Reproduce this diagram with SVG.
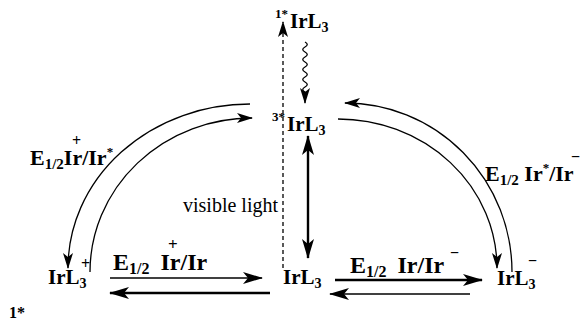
<svg xmlns="http://www.w3.org/2000/svg" width="580" height="324" viewBox="0 0 580 324">
<style>
.t{font-family:"Liberation Serif","Times New Roman",serif;font-weight:bold;fill:#000}
.n{font-family:"Liberation Serif","Times New Roman",serif;fill:#000}
.l{fill:none;stroke:#000;stroke-width:1.3}
.k{fill:none;stroke:#000;stroke-width:2.4}
</style>
<defs>
<marker id="ah" markerWidth="16" markerHeight="10" refX="15" refY="5" orient="auto-start-reverse" markerUnits="userSpaceOnUse">
<path d="M0,0 L16,5 L0,10 L4,5 z" fill="#000"/>
</marker>
<marker id="ahb" markerWidth="20" markerHeight="12" refX="19" refY="6" orient="auto-start-reverse" markerUnits="userSpaceOnUse">
<path d="M0,0 L20,6 L0,12 L5,6 z" fill="#000"/>
</marker>
</defs>
<g id="connectors">
<line class="l" x1="283" y1="268" x2="283" y2="22" stroke-dasharray="4,3" stroke-width="1.6" marker-end="url(#ah)"/>
<path class="l" d="M305,42 q4.5,2.5 0,5 t0,5 t0,5 t0,5 t0,5 t0,5 t0,5 t0,5 t0,5 t0,5 L305,103" marker-end="url(#ah)"/>
<line class="k" x1="308" y1="136" x2="308" y2="258" marker-start="url(#ahb)" marker-end="url(#ahb)"/>
<path class="l" d="M250,104 A182,164 0 0 0 68,268" marker-end="url(#ah)"/>
<path class="l" d="M90,272 A162,154 0 0 1 252,118" marker-end="url(#ah)"/>
<path class="l" d="M512,272 A167,169 0 0 0 345,103" marker-end="url(#ah)"/>
<path class="l" d="M338,119 A159,149 0 0 1 497,268" marker-end="url(#ah)"/>
<line class="l" x1="110" y1="278" x2="262" y2="278" marker-end="url(#ahb)"/>
<line class="k" x1="270" y1="293" x2="110" y2="293" marker-end="url(#ahb)"/>
<line class="k" x1="335" y1="280" x2="482" y2="280" marker-end="url(#ahb)"/>
<line class="l" x1="470" y1="294" x2="330" y2="294" marker-end="url(#ahb)"/>
</g>
<g id="n1">
<text class="t" x="275" y="18" font-size="13">1*</text>
<text class="t" x="290" y="28" font-size="21">IrL<tspan font-size="14" dy="4">3</tspan></text>
</g>
<g id="n3">
<text class="t" x="272" y="121" font-size="13">3*</text>
<text class="t" x="287" y="131" font-size="21">IrL<tspan font-size="14" dy="4">3</tspan></text>
</g>
<g id="nplus">
<text class="t" x="48" y="284" font-size="21">IrL<tspan font-size="14" dy="4">3</tspan></text>
<text class="t" x="81" y="269" font-size="16">+</text>
<text class="t" x="9" y="318" font-size="16">1*</text>
</g>
<g id="nmid">
<text class="t" x="283" y="284" font-size="21">IrL<tspan font-size="14" dy="4">3</tspan></text>
</g>
<g id="nminus">
<text class="t" x="497" y="285" font-size="21">IrL<tspan font-size="14" dy="4">3</tspan></text>
<text class="t" x="528" y="266" font-size="16">−</text>
</g>
<g id="labels">
<text class="t" x="30" y="165" font-size="22">E<tspan font-size="15" dy="4">1/2</tspan><tspan dy="-4">Ir/Ir</tspan><tspan font-size="13" dy="-9">*</tspan></text>
<text class="t" x="72" y="146" font-size="16">+</text>
<text class="t" x="485" y="181" font-size="22">E<tspan font-size="15" dy="4">1/2</tspan><tspan dy="-4"> Ir</tspan><tspan font-size="13" dy="-9">*</tspan><tspan dy="9">/Ir</tspan></text>
<text class="t" x="571" y="162" font-size="16">−</text>
<text class="t" x="113" y="270" font-size="24">E<tspan font-size="16" dy="4">1/2</tspan><tspan dy="-4" dx="5"> Ir/Ir</tspan></text>
<text class="t" x="168" y="250" font-size="17">+</text>
<text class="t" x="350" y="273" font-size="24">E<tspan font-size="16" dy="4">1/2</tspan><tspan dy="-4" dx="5"> Ir/Ir</tspan></text>
<text class="t" x="450" y="258" font-size="16">−</text>
<text class="n" x="183" y="212" font-size="20">visible light</text>
</g>
</svg>
